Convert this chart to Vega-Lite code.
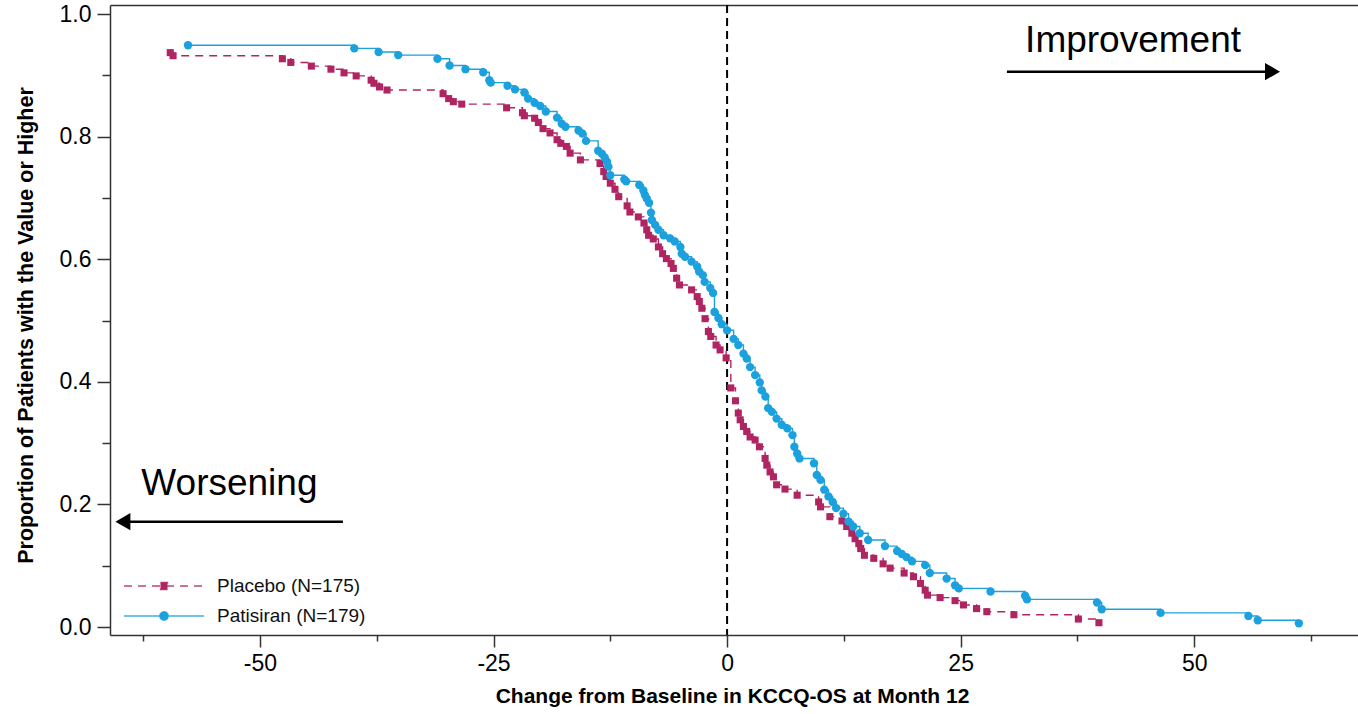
{
  "$schema": "https://vega.github.io/schema/vega-lite/v6.json",
  "width": 1248,
  "height": 630,
  "autosize": {"type": "none"},
  "padding": {"left": 110, "top": 5, "right": 0, "bottom": 79},
  "background": "white",
  "config": {
    "view": {"stroke": null},
    "font": "Liberation Sans",
    "axis": {"grid": false, "labelFont": "Liberation Sans", "titleFont": "Liberation Sans", "labelColor": "#000", "titleColor": "#000", "tickColor": "#333", "domainColor": "#333", "tickWidth": 1.5, "domainWidth": 1.5}
  },
  "datasets": {
    "km": [
      {"arm": "Placebo", "change": -59.6, "prop": 0.937},
      {"arm": "Placebo", "change": -59.3, "prop": 0.932},
      {"arm": "Placebo", "change": -47.6, "prop": 0.927},
      {"arm": "Placebo", "change": -46.7, "prop": 0.921},
      {"arm": "Placebo", "change": -44.5, "prop": 0.915},
      {"arm": "Placebo", "change": -42.4, "prop": 0.910},
      {"arm": "Placebo", "change": -41.0, "prop": 0.904},
      {"arm": "Placebo", "change": -39.7, "prop": 0.899},
      {"arm": "Placebo", "change": -38.1, "prop": 0.892},
      {"arm": "Placebo", "change": -37.8, "prop": 0.887},
      {"arm": "Placebo", "change": -37.2, "prop": 0.881},
      {"arm": "Placebo", "change": -36.4, "prop": 0.876},
      {"arm": "Placebo", "change": -30.4, "prop": 0.870},
      {"arm": "Placebo", "change": -29.8, "prop": 0.862},
      {"arm": "Placebo", "change": -29.3, "prop": 0.857},
      {"arm": "Placebo", "change": -28.4, "prop": 0.853},
      {"arm": "Placebo", "change": -23.6, "prop": 0.847},
      {"arm": "Placebo", "change": -21.9, "prop": 0.839},
      {"arm": "Placebo", "change": -21.7, "prop": 0.834},
      {"arm": "Placebo", "change": -20.6, "prop": 0.830},
      {"arm": "Placebo", "change": -20.2, "prop": 0.823},
      {"arm": "Placebo", "change": -19.7, "prop": 0.813},
      {"arm": "Placebo", "change": -18.95, "prop": 0.806},
      {"arm": "Placebo", "change": -18.2, "prop": 0.795},
      {"arm": "Placebo", "change": -17.8, "prop": 0.789},
      {"arm": "Placebo", "change": -17.2, "prop": 0.784},
      {"arm": "Placebo", "change": -16.8, "prop": 0.773},
      {"arm": "Placebo", "change": -15.7, "prop": 0.762},
      {"arm": "Placebo", "change": -13.6, "prop": 0.756},
      {"arm": "Placebo", "change": -13.2, "prop": 0.743},
      {"arm": "Placebo", "change": -12.95, "prop": 0.735},
      {"arm": "Placebo", "change": -12.5, "prop": 0.724},
      {"arm": "Placebo", "change": -12.0, "prop": 0.714},
      {"arm": "Placebo", "change": -11.6, "prop": 0.702},
      {"arm": "Placebo", "change": -10.7, "prop": 0.687},
      {"arm": "Placebo", "change": -10.4, "prop": 0.677},
      {"arm": "Placebo", "change": -9.5, "prop": 0.669},
      {"arm": "Placebo", "change": -8.9, "prop": 0.659},
      {"arm": "Placebo", "change": -8.6, "prop": 0.648},
      {"arm": "Placebo", "change": -8.4, "prop": 0.639},
      {"arm": "Placebo", "change": -7.9, "prop": 0.633},
      {"arm": "Placebo", "change": -7.35, "prop": 0.620},
      {"arm": "Placebo", "change": -6.9, "prop": 0.609},
      {"arm": "Placebo", "change": -6.5, "prop": 0.601},
      {"arm": "Placebo", "change": -6.0, "prop": 0.593},
      {"arm": "Placebo", "change": -5.75, "prop": 0.585},
      {"arm": "Placebo", "change": -5.4, "prop": 0.569},
      {"arm": "Placebo", "change": -5.1, "prop": 0.558},
      {"arm": "Placebo", "change": -3.8, "prop": 0.550},
      {"arm": "Placebo", "change": -3.2, "prop": 0.539},
      {"arm": "Placebo", "change": -2.97, "prop": 0.531},
      {"arm": "Placebo", "change": -2.7, "prop": 0.520},
      {"arm": "Placebo", "change": -2.36, "prop": 0.503},
      {"arm": "Placebo", "change": -2.0, "prop": 0.482},
      {"arm": "Placebo", "change": -1.75, "prop": 0.474},
      {"arm": "Placebo", "change": -1.18, "prop": 0.460},
      {"arm": "Placebo", "change": -0.75, "prop": 0.452},
      {"arm": "Placebo", "change": -0.1, "prop": 0.439},
      {"arm": "Placebo", "change": 0.4, "prop": 0.390},
      {"arm": "Placebo", "change": 0.9, "prop": 0.369},
      {"arm": "Placebo", "change": 1.2, "prop": 0.349},
      {"arm": "Placebo", "change": 1.4, "prop": 0.338},
      {"arm": "Placebo", "change": 1.75, "prop": 0.327},
      {"arm": "Placebo", "change": 2.1, "prop": 0.319},
      {"arm": "Placebo", "change": 2.46, "prop": 0.310},
      {"arm": "Placebo", "change": 3.0, "prop": 0.305},
      {"arm": "Placebo", "change": 3.46, "prop": 0.294},
      {"arm": "Placebo", "change": 4.07, "prop": 0.275},
      {"arm": "Placebo", "change": 4.25, "prop": 0.264},
      {"arm": "Placebo", "change": 4.6, "prop": 0.253},
      {"arm": "Placebo", "change": 4.96, "prop": 0.245},
      {"arm": "Placebo", "change": 5.3, "prop": 0.232},
      {"arm": "Placebo", "change": 6.2, "prop": 0.225},
      {"arm": "Placebo", "change": 7.5, "prop": 0.215},
      {"arm": "Placebo", "change": 9.8, "prop": 0.204},
      {"arm": "Placebo", "change": 10.0, "prop": 0.196},
      {"arm": "Placebo", "change": 11.0, "prop": 0.180},
      {"arm": "Placebo", "change": 12.3, "prop": 0.173},
      {"arm": "Placebo", "change": 12.8, "prop": 0.164},
      {"arm": "Placebo", "change": 13.35, "prop": 0.153},
      {"arm": "Placebo", "change": 13.7, "prop": 0.144},
      {"arm": "Placebo", "change": 14.1, "prop": 0.136},
      {"arm": "Placebo", "change": 14.3, "prop": 0.128},
      {"arm": "Placebo", "change": 14.7, "prop": 0.117},
      {"arm": "Placebo", "change": 15.7, "prop": 0.112},
      {"arm": "Placebo", "change": 16.7, "prop": 0.103},
      {"arm": "Placebo", "change": 17.45, "prop": 0.096},
      {"arm": "Placebo", "change": 18.95, "prop": 0.088},
      {"arm": "Placebo", "change": 19.95, "prop": 0.082},
      {"arm": "Placebo", "change": 20.7, "prop": 0.071},
      {"arm": "Placebo", "change": 21.2, "prop": 0.060},
      {"arm": "Placebo", "change": 21.45, "prop": 0.052},
      {"arm": "Placebo", "change": 22.8, "prop": 0.048},
      {"arm": "Placebo", "change": 24.4, "prop": 0.043},
      {"arm": "Placebo", "change": 25.3, "prop": 0.036},
      {"arm": "Placebo", "change": 26.7, "prop": 0.030},
      {"arm": "Placebo", "change": 27.8, "prop": 0.025},
      {"arm": "Placebo", "change": 30.7, "prop": 0.020},
      {"arm": "Placebo", "change": 37.6, "prop": 0.013},
      {"arm": "Placebo", "change": 39.8, "prop": 0.007},
      {"arm": "Patisiran", "change": -57.7, "prop": 0.949},
      {"arm": "Patisiran", "change": -39.9, "prop": 0.944},
      {"arm": "Patisiran", "change": -37.3, "prop": 0.938},
      {"arm": "Patisiran", "change": -35.2, "prop": 0.933},
      {"arm": "Patisiran", "change": -31.0, "prop": 0.927},
      {"arm": "Patisiran", "change": -29.7, "prop": 0.916},
      {"arm": "Patisiran", "change": -28.0, "prop": 0.910},
      {"arm": "Patisiran", "change": -26.1, "prop": 0.905},
      {"arm": "Patisiran", "change": -25.45, "prop": 0.892},
      {"arm": "Patisiran", "change": -25.3, "prop": 0.888},
      {"arm": "Patisiran", "change": -23.5, "prop": 0.883},
      {"arm": "Patisiran", "change": -22.7, "prop": 0.877},
      {"arm": "Patisiran", "change": -21.7, "prop": 0.872},
      {"arm": "Patisiran", "change": -21.3, "prop": 0.862},
      {"arm": "Patisiran", "change": -20.6, "prop": 0.855},
      {"arm": "Patisiran", "change": -20.0, "prop": 0.850},
      {"arm": "Patisiran", "change": -19.4, "prop": 0.841},
      {"arm": "Patisiran", "change": -18.2, "prop": 0.831},
      {"arm": "Patisiran", "change": -17.7, "prop": 0.821},
      {"arm": "Patisiran", "change": -17.3, "prop": 0.816},
      {"arm": "Patisiran", "change": -15.9, "prop": 0.810},
      {"arm": "Patisiran", "change": -15.5, "prop": 0.805},
      {"arm": "Patisiran", "change": -15.1, "prop": 0.793},
      {"arm": "Patisiran", "change": -13.8, "prop": 0.777},
      {"arm": "Patisiran", "change": -13.4, "prop": 0.772},
      {"arm": "Patisiran", "change": -13.1, "prop": 0.766},
      {"arm": "Patisiran", "change": -12.85, "prop": 0.759},
      {"arm": "Patisiran", "change": -12.7, "prop": 0.751},
      {"arm": "Patisiran", "change": -12.5, "prop": 0.737},
      {"arm": "Patisiran", "change": -11.0, "prop": 0.730},
      {"arm": "Patisiran", "change": -10.8, "prop": 0.727},
      {"arm": "Patisiran", "change": -9.4, "prop": 0.721},
      {"arm": "Patisiran", "change": -8.96, "prop": 0.712},
      {"arm": "Patisiran", "change": -8.8, "prop": 0.705},
      {"arm": "Patisiran", "change": -8.6, "prop": 0.699},
      {"arm": "Patisiran", "change": -8.35, "prop": 0.692},
      {"arm": "Patisiran", "change": -8.15, "prop": 0.676},
      {"arm": "Patisiran", "change": -8.05, "prop": 0.664},
      {"arm": "Patisiran", "change": -7.7, "prop": 0.656},
      {"arm": "Patisiran", "change": -7.35, "prop": 0.648},
      {"arm": "Patisiran", "change": -6.8, "prop": 0.639},
      {"arm": "Patisiran", "change": -6.1, "prop": 0.634},
      {"arm": "Patisiran", "change": -5.6, "prop": 0.629},
      {"arm": "Patisiran", "change": -5.0, "prop": 0.620},
      {"arm": "Patisiran", "change": -4.85, "prop": 0.609},
      {"arm": "Patisiran", "change": -4.5, "prop": 0.604},
      {"arm": "Patisiran", "change": -3.8, "prop": 0.596},
      {"arm": "Patisiran", "change": -3.2, "prop": 0.588},
      {"arm": "Patisiran", "change": -3.0, "prop": 0.580},
      {"arm": "Patisiran", "change": -2.6, "prop": 0.574},
      {"arm": "Patisiran", "change": -2.4, "prop": 0.563},
      {"arm": "Patisiran", "change": -1.8, "prop": 0.553},
      {"arm": "Patisiran", "change": -1.5, "prop": 0.545},
      {"arm": "Patisiran", "change": -1.35, "prop": 0.514},
      {"arm": "Patisiran", "change": -0.93, "prop": 0.504},
      {"arm": "Patisiran", "change": -0.57, "prop": 0.494},
      {"arm": "Patisiran", "change": 0.0, "prop": 0.484},
      {"arm": "Patisiran", "change": 0.7, "prop": 0.470},
      {"arm": "Patisiran", "change": 1.2, "prop": 0.460},
      {"arm": "Patisiran", "change": 1.75, "prop": 0.446},
      {"arm": "Patisiran", "change": 2.1, "prop": 0.438},
      {"arm": "Patisiran", "change": 2.46, "prop": 0.424},
      {"arm": "Patisiran", "change": 3.0, "prop": 0.411},
      {"arm": "Patisiran", "change": 3.5, "prop": 0.399},
      {"arm": "Patisiran", "change": 3.7, "prop": 0.386},
      {"arm": "Patisiran", "change": 4.1, "prop": 0.376},
      {"arm": "Patisiran", "change": 4.4, "prop": 0.357},
      {"arm": "Patisiran", "change": 4.8, "prop": 0.351},
      {"arm": "Patisiran", "change": 5.3, "prop": 0.340},
      {"arm": "Patisiran", "change": 5.85, "prop": 0.330},
      {"arm": "Patisiran", "change": 6.45, "prop": 0.324},
      {"arm": "Patisiran", "change": 7.0, "prop": 0.313},
      {"arm": "Patisiran", "change": 7.2, "prop": 0.294},
      {"arm": "Patisiran", "change": 7.5, "prop": 0.283},
      {"arm": "Patisiran", "change": 7.75, "prop": 0.275},
      {"arm": "Patisiran", "change": 9.3, "prop": 0.267},
      {"arm": "Patisiran", "change": 9.6, "prop": 0.248},
      {"arm": "Patisiran", "change": 10.0, "prop": 0.240},
      {"arm": "Patisiran", "change": 10.4, "prop": 0.224},
      {"arm": "Patisiran", "change": 10.85, "prop": 0.213},
      {"arm": "Patisiran", "change": 11.3, "prop": 0.204},
      {"arm": "Patisiran", "change": 11.67, "prop": 0.194},
      {"arm": "Patisiran", "change": 12.45, "prop": 0.185},
      {"arm": "Patisiran", "change": 13.0, "prop": 0.172},
      {"arm": "Patisiran", "change": 13.5, "prop": 0.164},
      {"arm": "Patisiran", "change": 14.2, "prop": 0.153},
      {"arm": "Patisiran", "change": 15.1, "prop": 0.142},
      {"arm": "Patisiran", "change": 16.9, "prop": 0.132},
      {"arm": "Patisiran", "change": 18.2, "prop": 0.124},
      {"arm": "Patisiran", "change": 18.7, "prop": 0.119},
      {"arm": "Patisiran", "change": 19.2, "prop": 0.114},
      {"arm": "Patisiran", "change": 19.8, "prop": 0.107},
      {"arm": "Patisiran", "change": 21.2, "prop": 0.101},
      {"arm": "Patisiran", "change": 21.7, "prop": 0.088},
      {"arm": "Patisiran", "change": 23.5, "prop": 0.079},
      {"arm": "Patisiran", "change": 24.4, "prop": 0.068},
      {"arm": "Patisiran", "change": 24.8, "prop": 0.063},
      {"arm": "Patisiran", "change": 28.2, "prop": 0.058},
      {"arm": "Patisiran", "change": 31.9, "prop": 0.051},
      {"arm": "Patisiran", "change": 32.1, "prop": 0.045},
      {"arm": "Patisiran", "change": 39.6, "prop": 0.040},
      {"arm": "Patisiran", "change": 40.1, "prop": 0.029},
      {"arm": "Patisiran", "change": 46.4, "prop": 0.023},
      {"arm": "Patisiran", "change": 55.8, "prop": 0.018},
      {"arm": "Patisiran", "change": 56.8, "prop": 0.011},
      {"arm": "Patisiran", "change": 61.2, "prop": 0.006}
    ],
    "notes": [
      {"label": "Improvement", "change": 31.9, "prop": 0.9385},
      {"label": "Worsening", "change": -62.7, "prop": 0.2153}
    ],
    "arrows": [
      {"dir": "right", "from": 29.95, "to": 58.38, "prop": 0.906},
      {"dir": "left", "from": -41.12, "to": -64.67, "prop": 0.1718}
    ]
  },
  "layer": [
    {
      "data": {"values": [{"change": 0}]},
      "mark": {"type": "rule", "color": "#000", "strokeWidth": 2, "strokeDash": [8, 5]},
      "encoding": {
        "x": {"field": "change", "type": "quantitative", "scale": {"domain": [-66.05, 67.53], "nice": false, "zero": false},
          "axis": {"orient": "top", "ticks": false, "labels": false, "domain": true, "title": null}}
      }
    },
    {
      "data": {"name": "km"},
      "mark": {"type": "line", "interpolate": "step-after", "strokeWidth": 1.4},
      "encoding": {
        "x": {"field": "change", "type": "quantitative", "scale": {"domain": [-66.05, 67.53], "nice": false, "zero": false},
          "axis": {"orient": "bottom", "values": [-50, -25, 0, 25, 50], "tickSize": 12, "labelPadding": 5, "labelFontSize": 23,
            "labelExpr": "replace(datum.label, '\u2212', '-')",
            "title": "Change from Baseline in KCCQ-OS at Month 12", "titleFontSize": 21, "titleFontWeight": "bold",
            "titleX": 622, "titleY": 67, "titleBaseline": "alphabetic", "titleAlign": "center"}},
        "y": {"field": "prop", "type": "quantitative", "scale": {"domain": [-0.01305, 1.0147], "nice": false, "zero": false},
          "axis": {"orient": "left", "values": [0, 0.2, 0.4, 0.6, 0.8, 1.0], "format": ".1f", "tickSize": 13, "labelPadding": 6, "labelFontSize": 23,
            "title": "Proportion of Patients with the Value or Higher", "titleFontSize": 21.5, "titleFontWeight": "bold",
            "titleAngle": 270, "titleX": -78, "titleY": 320, "titleBaseline": "alphabetic", "titleAlign": "center"}},
        "color": {"field": "arm", "type": "nominal",
          "scale": {"domain": ["Placebo", "Patisiran"], "range": ["#b02462", "#1ba1dd"]},
          "legend": {
            "orient": "none", "legendX": 73, "legendY": 570, "title": null, "padding": 0,
            "symbolSize": 400, "symbolStrokeWidth": 1.4, "rowPadding": 9, "labelOffset": 12,
            "labelFontSize": 19, "labelFont": "Liberation Sans", "labelColor": "#111",
            "labelExpr": "datum.label === 'Placebo' ? 'Placebo (N=175)' : 'Patisiran (N=179)'",
            "encode": {"symbols": {"update": {
              "shape": {"signal": "datum.value === 'Placebo' ? 'M-7,0H1M-3.35,-0.35H-2.65V0.35H-3.35Z' : 'M-7,0H1M-3.42,0A0.42,0.42,0,1,0,-2.58,0A0.42,0.42,0,1,0,-3.42,0Z'"},
              "strokeDash": {"signal": "datum.value === 'Placebo' ? [7, 5] : [1, 0]"},
              "fill": {"signal": "scale('color', datum.value)"},
              "stroke": {"signal": "scale('color', datum.value)"},
              "fillOpacity": {"value": 1},
              "strokeOpacity": {"value": 0.85},
              "opacity": {"value": 1}
            }}}
          }},
        "strokeDash": {"field": "arm", "type": "nominal",
          "scale": {"domain": ["Placebo", "Patisiran"], "range": [[8, 6], [1, 0]]}, "legend": null}
      }
    },
    {
      "data": {"name": "km"},
      "transform": [{"filter": "datum.arm === 'Placebo'"}],
      "mark": {"type": "point", "shape": "square", "filled": true, "opacity": 1, "size": 50},
      "encoding": {
        "x": {"field": "change", "type": "quantitative", "scale": {"domain": [-66.05, 67.53], "nice": false, "zero": false},
          "axis": {"orient": "bottom", "values": [-62.5, -37.5, -12.5, 12.5, 37.5, 62.5], "tickSize": 6, "labels": false, "domain": false, "title": null}},
        "y": {"field": "prop", "type": "quantitative", "scale": {"domain": [-0.01305, 1.0147], "nice": false, "zero": false},
          "axis": {"orient": "left", "values": [0.1, 0.3, 0.5, 0.7, 0.9], "tickSize": 8, "labels": false, "domain": false, "title": null}},
        "color": {"field": "arm", "type": "nominal", "scale": {"domain": ["Placebo", "Patisiran"], "range": ["#b02462", "#1ba1dd"]}, "legend": null}
      }
    },
    {
      "data": {"name": "km"},
      "transform": [{"filter": "datum.arm === 'Patisiran'"}],
      "mark": {"type": "point", "shape": "circle", "filled": true, "opacity": 1, "size": 70},
      "encoding": {
        "x": {"field": "change", "type": "quantitative", "axis": null},
        "y": {"field": "prop", "type": "quantitative", "axis": null},
        "color": {"field": "arm", "type": "nominal", "legend": null}
      }
    },
    {
      "data": {"name": "notes"},
      "mark": {"type": "text", "fontSize": 37, "font": "Liberation Sans", "align": "left", "baseline": "alphabetic", "color": "#000"},
      "encoding": {
        "x": {"field": "change", "type": "quantitative", "axis": null},
        "y": {"field": "prop", "type": "quantitative", "axis": null},
        "text": {"field": "label"}
      }
    },
    {
      "data": {"name": "arrows"},
      "mark": {"type": "rule", "color": "#000", "strokeWidth": 2.5},
      "encoding": {
        "x": {"field": "from", "type": "quantitative", "axis": null},
        "x2": {"field": "to"},
        "y": {"field": "prop", "type": "quantitative", "axis": null}
      }
    },
    {
      "data": {"name": "arrows"},
      "transform": [{"filter": "datum.dir === 'right'"}],
      "mark": {"type": "point", "shape": "triangle-right", "filled": true, "opacity": 1, "size": 300, "color": "#000"},
      "encoding": {
        "x": {"field": "to", "type": "quantitative", "axis": null},
        "y": {"field": "prop", "type": "quantitative", "axis": null}
      }
    },
    {
      "data": {"name": "arrows"},
      "transform": [{"filter": "datum.dir === 'left'"}],
      "mark": {"type": "point", "shape": "triangle-left", "filled": true, "opacity": 1, "size": 300, "color": "#000"},
      "encoding": {
        "x": {"field": "to", "type": "quantitative", "axis": null},
        "y": {"field": "prop", "type": "quantitative", "axis": null}
      }
    }
  ],
  "resolve": {"axis": {"x": "independent", "y": "independent"}}
}
